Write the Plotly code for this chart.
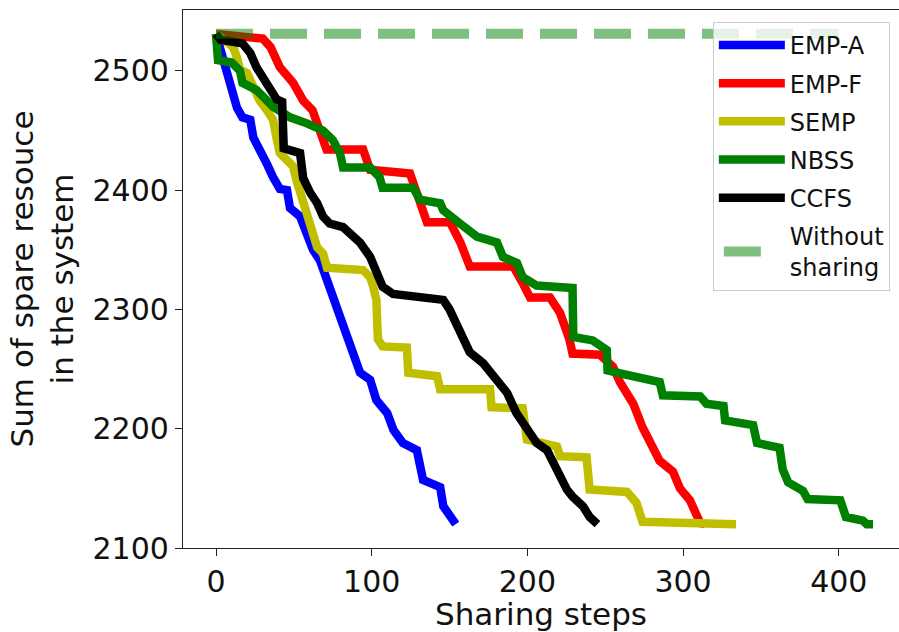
import plotly.graph_objects as go

# Sum of spare resource after each sharing step, per scheme
steps_emp_a = [0, 2, 4.5, 7, 11, 13.5, 17, 22, 24, 28, 32.7, 36.6, 41, 45.6, 47.5, 54, 58.4,
               62.3, 66.8, 71.3, 75, 79, 82, 86, 89, 92.5, 99, 103, 110, 114, 120, 129, 133,
               144, 146, 150, 154]
spare_emp_a = [2531, 2522, 2515, 2501, 2486, 2469, 2461, 2459, 2444, 2432, 2422, 2411, 2401,
               2400, 2385, 2378, 2361, 2350, 2341, 2325, 2314, 2300, 2285, 2272, 2260, 2247,
               2241, 2224, 2213, 2199, 2188, 2182, 2157, 2151, 2135, 2126, 2120]

steps_emp_f = [0, 30, 35, 41, 49.5, 56, 62, 67, 71, 94.5, 99, 124.6, 131, 135.5, 150.3, 157,
               163, 191, 197, 201.7, 214.5, 221, 227, 229, 246.6, 255, 259.5, 268, 274, 281,
               285, 293.5, 298, 304.4, 309, 311, 314]
spare_emp_f = [2531, 2527, 2520, 2503, 2490, 2475, 2467, 2450, 2434, 2434, 2417, 2414, 2392,
               2373, 2373, 2356, 2336, 2336, 2322, 2310, 2310, 2297, 2275, 2263, 2262, 2252,
               2239, 2221, 2201, 2183, 2173, 2164, 2150, 2140, 2129, 2121, 2120]

steps_semp = [0, 5, 11, 13.5, 15.4, 20, 24, 28, 32.7, 36.6, 39, 41, 45.6, 49.5, 52, 54, 56,
              58.4, 62.3, 65, 68.7, 71.3, 94.5, 99, 101, 103, 104, 107, 122.6, 123.5, 142,
              144, 176, 177, 197, 199.7, 219, 221, 238, 240, 264, 270, 274, 334]
spare_semp = [2531, 2526, 2520, 2511, 2501, 2498, 2486, 2475, 2467, 2459, 2443, 2431, 2425,
              2420, 2407, 2398, 2390, 2378, 2364, 2352, 2347, 2335, 2333, 2327, 2319, 2308,
              2275, 2269, 2268, 2247, 2244, 2233, 2233, 2218, 2217, 2191, 2185, 2177, 2176,
              2149, 2147, 2138, 2122, 2120]

steps_nbss = [0, 1.3, 10, 15.4, 17, 26, 36.6, 47.5, 58.4, 68.7, 75, 79.6, 81.6, 99, 105, 107,
              126.7, 131, 144, 146, 156.7, 163, 167.6, 180.5, 184.3, 193.3, 197, 206, 229,
              229.5, 242, 251, 251.5, 261, 285, 287, 311, 315, 326, 327, 345, 347.5, 362, 364,
              367.5, 377, 380, 401, 404.6, 415.5, 418, 422]
spare_nbss = [2531, 2509, 2507, 2500, 2490, 2484, 2470, 2461, 2456, 2450, 2442, 2431, 2419,
              2419, 2411, 2402, 2402, 2392, 2389, 2383, 2372, 2366, 2361, 2356, 2344, 2339,
              2327, 2320, 2318, 2277, 2274, 2266, 2249, 2246, 2239, 2228, 2227, 2221, 2219,
              2207, 2203, 2188, 2184, 2166, 2155, 2148, 2141, 2140, 2126, 2123, 2120, 2120]

steps_ccfs = [0, 3, 17, 22, 26, 30, 34.7, 39, 42.5, 43.5, 54, 56, 60.4, 65, 68.7, 73, 81.6,
              86, 92.5, 99, 103.4, 107, 113.7, 135, 146, 150, 155, 158.6, 163, 171.5, 178,
              187, 193, 199.7, 206, 212.6, 216.4, 221, 225.4, 229, 235.7, 240, 244, 245]
spare_ccfs = [2531, 2526, 2523, 2515, 2503, 2495, 2484, 2476, 2474, 2435, 2431, 2410, 2398,
              2389, 2378, 2372, 2369, 2364, 2356, 2344, 2331, 2319, 2313, 2309, 2308, 2300,
              2286, 2275, 2264, 2255, 2244, 2230, 2213, 2199, 2188, 2182, 2171, 2160, 2149,
              2143, 2135, 2126, 2121, 2120]

steps_baseline = [0, 400]
spare_baseline = [2531, 2531]

x_ticks = [0, 100, 200, 300, 400]
y_ticks = [2100, 2200, 2300, 2400, 2500]

series = [
    ("EMP-A", steps_emp_a, spare_emp_a, "#0000ff"),
    ("EMP-F", steps_emp_f, spare_emp_f, "#ff0000"),
    ("SEMP", steps_semp, spare_semp, "#bfbf00"),
    ("NBSS", steps_nbss, spare_nbss, "#008000"),
    ("CCFS", steps_ccfs, spare_ccfs, "#000000"),
]

BASELINE_COLOR = "rgba(0,128,0,0.5)"

fig = go.Figure()
for name, xs, ys, color in series:
    fig.add_trace(go.Scatter(
        x=xs, y=ys, mode="lines", name=name, legendgroup=name,
        line=dict(color=color, width=8.5),
    ))

# no-sharing reference level (the plotted line)
fig.add_trace(go.Scatter(
    x=steps_baseline, y=spare_baseline, mode="lines", name="Without sharing",
    legendgroup="baseline", showlegend=False,
    line=dict(color=BASELINE_COLOR, width=10, dash="37px,17px"),
))
# its legend entry: a single dash inside the key
fig.add_trace(go.Scatter(
    x=[None], y=[None], mode="lines", name="Without<br>sharing",
    legendgroup="baseline", showlegend=True, hoverinfo="skip",
    line=dict(color=BASELINE_COLOR, width=10, dash="0px,5px,37px,100px"),
))

axis_common = dict(
    ticks="outside", ticklen=7, tickwidth=1.3, tickcolor="#222",
    showline=True, linecolor="#222", linewidth=1.3,
    showgrid=False, zeroline=False,
    tickfont=dict(size=30, color="#111"),
)

fig.update_layout(
    width=899, height=632,
    margin=dict(l=183, r=0, t=10, b=84),
    paper_bgcolor="white", plot_bgcolor="white",
    font=dict(family="DejaVu Sans", size=31, color="#111"),
    xaxis=dict(
        range=[-21.2, 438.7], tickvals=x_ticks, mirror=True,
        title=dict(text="Sharing steps", font=dict(size=31), standoff=8),
        **axis_common,
    ),
    yaxis=dict(
        range=[2100, 2551], tickvals=y_ticks,
        title=dict(text="Sum of spare resouce<br>in the system", font=dict(size=31), standoff=9),
        **axis_common,
    ),
    legend=dict(
        x=0.740, y=0.978, xanchor="left", yanchor="top",
        bgcolor="rgba(255,255,255,0.8)", bordercolor="#cccccc", borderwidth=1,
        font=dict(size=24, color="#111"), tracegroupgap=4, itemwidth=66,
        traceorder="grouped",
    ),
)

fig.write_html("out.html")
